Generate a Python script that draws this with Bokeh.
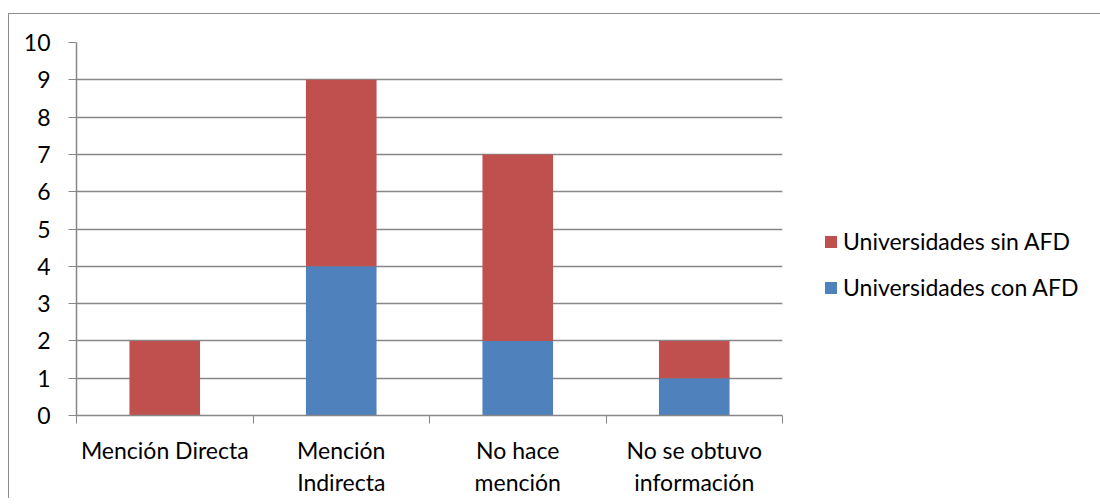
import numpy as np
from bokeh.plotting import figure
from bokeh.models import (ColumnDataSource, Range1d, FixedTicker, Legend, LegendItem)
from bokeh.embed import file_html
from bokeh.resources import INLINE

categories = ["Mención Directa", "Mención Indirecta", "No hace mención", "No se obtuvo información"]
tick_labels = ["Mención Directa", "Mención\nIndirecta", "No hace\nmención", "No se obtuvo\ninformación"]
con_afd = [0, 4, 2, 1]
sin_afd = [2, 5, 5, 1]
series_names = ["Universidades con AFD", "Universidades sin AFD"]
y_ticks = list(range(0, 11))

FONT = "Lato"
FS = "23px"
GRID = "#878787"
RED = "#C0504D"
BLUE = "#4F81BD"

n = len(categories)
xpos = np.arange(n) + 0.5
source = ColumnDataSource(dict(x=xpos, con=con_afd, sin=sin_afd))

p = figure(frame_width=706, frame_height=373, output_backend="svg", toolbar_location=None,
           x_range=Range1d(0, n), y_range=Range1d(0, 10),
           min_border_left=67, min_border_right=0, min_border_top=28, min_border_bottom=81)
p.margin = (13, 0, 0, 8)
p.styles = {"border-top": "1px solid #8c8c8c", "border-left": "1px solid #8c8c8c"}
p.outline_line_color = None
p.background_fill_color = "white"
p.border_fill_color = "white"

rs = p.vbar_stack(["con", "sin"], x="x", width=0.4, source=source,
                  color=[BLUE, RED], line_color=None)

# axes
p.xaxis.ticker = FixedTicker(ticks=list(xpos), minor_ticks=list(np.arange(n + 1)))
p.xaxis.major_label_overrides = {float(x): lab for x, lab in zip(xpos, tick_labels)}
p.xaxis.major_tick_out = 0
p.xaxis.major_tick_in = 0
p.xaxis.minor_tick_out = 8
p.xaxis.minor_tick_in = 0
p.xaxis.minor_tick_line_color = GRID
p.xaxis.axis_line_color = GRID
p.xaxis.major_label_standoff = 12
p.xaxis.major_label_text_line_height = 1.15

p.yaxis.ticker = FixedTicker(ticks=y_ticks)
p.yaxis.major_tick_out = 8
p.yaxis.major_tick_in = 0
p.yaxis.minor_tick_line_color = None
p.yaxis.major_tick_line_color = GRID
p.yaxis.axis_line_color = GRID
p.yaxis.major_label_standoff = 18

for ax in (p.xaxis, p.yaxis):
    ax.major_label_text_font = FONT
    ax.major_label_text_font_size = FS
    ax.major_label_text_color = "black"
    ax.axis_line_width = 1.5

p.xgrid.grid_line_color = None
p.ygrid.ticker = FixedTicker(ticks=y_ticks)
p.ygrid.grid_line_color = GRID
p.ygrid.grid_line_width = 1.5

legend = Legend(items=[LegendItem(label=series_names[1], renderers=[rs[1]]),
                       LegendItem(label=series_names[0], renderers=[rs[0]])],
                location=(41, 114), padding=0, margin=0, spacing=18,
                glyph_width=15, glyph_height=15, label_height=22, label_standoff=5,
                label_text_font=FONT, label_text_font_size=FS, label_text_color="black",
                border_line_color=None, background_fill_alpha=0)
p.add_layout(legend, "right")

open("out.html", "w").write(file_html(p, INLINE))
